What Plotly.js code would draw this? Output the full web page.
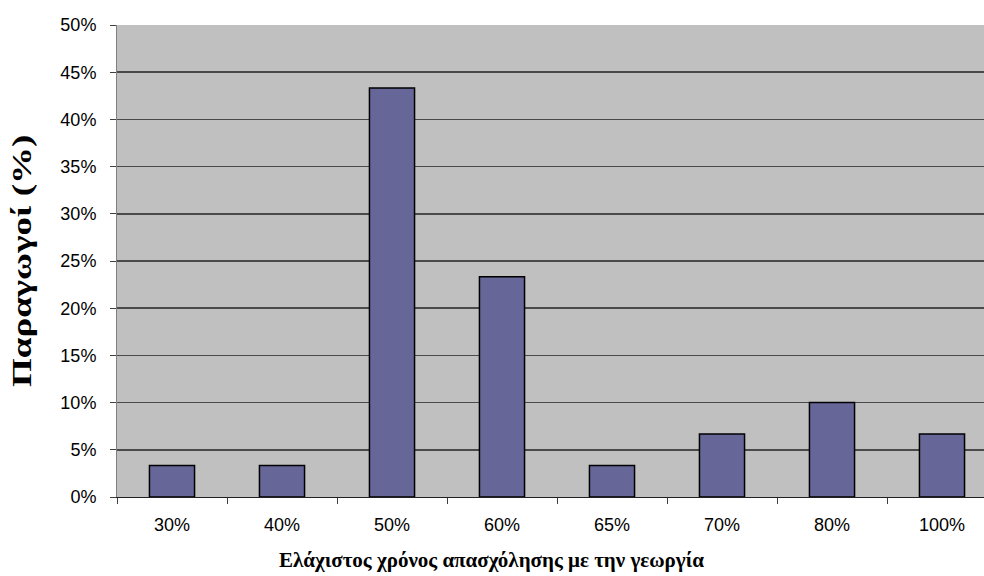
<!DOCTYPE html>
<html>
<head>
<meta charset="utf-8">
<script src="https://cdn.plot.ly/plotly-3.0.1.min.js"></script>
<style>
html, body { margin: 0; padding: 0; overflow: hidden; background: #ffffff; }
#chart { width: 1000px; height: 576px; }
</style>
</head>
<body>
<div id="chart"></div>
<script>
// Data
const categories = ['30%', '40%', '50%', '60%', '65%', '70%', '80%', '100%'];
const producersPct = [3.33, 3.33, 43.33, 23.33, 3.33, 6.67, 10.0, 6.67];
const yTickValues = [0, 5, 10, 15, 20, 25, 30, 35, 40, 45, 50];
const xTitleText = 'Ελάχιστος χρόνος απασχόλησης με την γεωργία';
const yTitleText = 'Παραγωγοί (%)';

const trace = {
  type: 'bar',
  x: categories,
  y: producersPct,
  marker: { color: '#666699', line: { color: '#000000', width: 1.5 } },
  hoverinfo: 'skip'
};

const layout = {
  width: 1000,
  height: 576,
  margin: { l: 117, r: 3, t: 25, b: 79 },
  paper_bgcolor: '#ffffff',
  plot_bgcolor: '#c0c0c0',
  bargap: 0.59,
  showlegend: false,
  font: { family: 'Liberation Sans, Arial, sans-serif', size: 18, color: '#000000' },
  xaxis: {
    type: 'category',
    tickson: 'boundaries',
    ticks: 'outside',
    ticklen: 6,
    tickcolor: '#404040',
    tickwidth: 1,
    showgrid: false,
    showline: true,
    linecolor: '#202020',
    linewidth: 1,
    tickfont: { family: 'Liberation Sans, Arial, sans-serif', size: 18, color: '#000' },
    ticklabelstandoff: 11
  },
  yaxis: {
    range: [0, 50],
    tickvals: yTickValues,
    ticktext: yTickValues.map(v => v + '%'),
    ticks: 'outside',
    ticklen: 6,
    tickcolor: '#404040',
    showgrid: true,
    gridcolor: '#4a4a4a',
    gridwidth: 1.5,
    showline: true,
    linecolor: '#808080',
    linewidth: 1,
    zeroline: false,
    tickfont: { family: 'Liberation Sans, Arial, sans-serif', size: 18, color: '#000' },
    ticklabelstandoff: 10
  },
  annotations: [
    {
      text: '<b>' + xTitleText + '</b>',
      xref: 'paper', yref: 'paper',
      x: 0.425, y: -0.133,
      xanchor: 'center', yanchor: 'middle',
      showarrow: false,
      font: { family: 'Liberation Serif, Times New Roman, serif', size: 21, color: '#000' }
    },
    {
      text: '<b>' + yTitleText + '</b>',
      xref: 'paper', yref: 'paper',
      x: -0.108, y: 0.50,
      xanchor: 'center', yanchor: 'middle',
      textangle: -90,
      showarrow: false,
      font: { family: 'Liberation Serif, Times New Roman, serif', size: 27, color: '#000' }
    }
  ]
};

Plotly.newPlot('chart', [trace], layout, { staticPlot: true, displayModeBar: false }).then(function () {
  const texts = document.querySelectorAll('#chart .annotation-text');
  if (texts.length > 1) {
    const t = texts[1];
    t.style.transformBox = 'fill-box';
    t.style.transformOrigin = 'center';
    t.style.transform = 'scaleX(1.37)';
  }
});
</script>
</body>
</html>
